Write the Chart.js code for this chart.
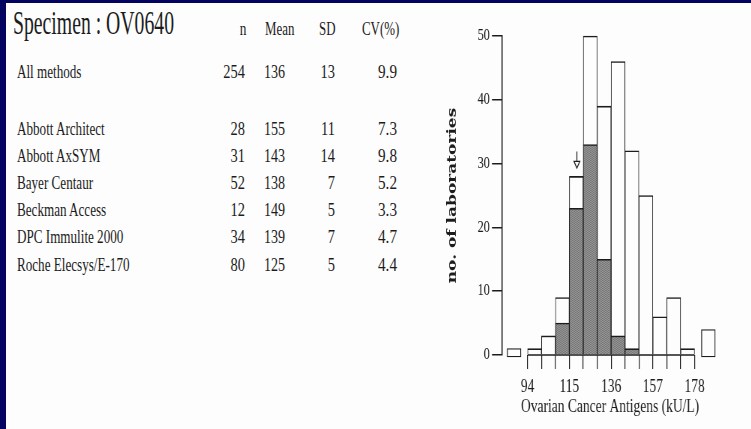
<!DOCTYPE html>
<html>
<head>
<meta charset="utf-8">
<script src="https://cdn.jsdelivr.net/npm/chart.js@4.4.1/dist/chart.umd.min.js"></script>
<style>
  html, body { margin: 0; padding: 0; }
  body { width: 751px; height: 429px; background: #04035f; position: relative; overflow: hidden; }
  #paper { position: absolute; left: 6px; top: 3px; right: 0; bottom: 0; background: #fdfdfd; }
  .txt { position: absolute; font-family: 'Liberation Serif', 'Times New Roman', serif; color: #1c1c1c;
         white-space: nowrap; line-height: 1; transform-origin: 0 0; }
  #chartBox { position: absolute; left: 440px; top: 20px; width: 380px; height: 409px;
              transform: scaleX(0.75); transform-origin: 0 0; }
</style>
</head>
<body>
<div id="paper"></div>
<div id="chartBox"><canvas id="histo" width="380" height="409"></canvas></div>
<script>
// table
const specimen = 'Specimen : OV0640';
const columns = ['n', 'Mean', 'SD', 'CV(%)'];
const methods = ['All methods', 'Abbott Architect', 'Abbott AxSYM', 'Bayer Centaur', 'Beckman Access', 'DPC Immulite 2000', 'Roche Elecsys/E-170'];
const nLabs = [254, 28, 31, 52, 12, 34, 80];
const means = [136, 155, 143, 138, 149, 139, 125];
const sds = [13, 11, 14, 7, 5, 7, 5];
const cvs = ['9.9', '7.3', '9.8', '5.2', '3.3', '4.7', '4.4'];

// histogram (bins of 7 kU/L)
const binEdges = [94, 101, 108, 115, 122, 129, 136, 143, 150, 157, 164, 171, 178];
const allCounts = [1, 3, 9, 28, 50, 39, 46, 32, 25, 6, 9, 1];
const rocheCounts = [0, 0, 5, 23, 33, 15, 3, 1, 0, 0, 0, 0];
const outlierX = [87.2, 184.9];
const outlierCounts = [1, 4];
const outlierBase = -0.3;
const xTickLabels = [94, 115, 136, 157, 178];
const arrowX = 118.8, arrowFrom = 31.9, arrowTo = 30.0;

const ink = '#1c1c1c';
const serif = "'Liberation Serif', 'Times New Roman', serif";

function addText(str, x, baseline, size, scale, align) {
  const el = document.createElement('div');
  el.className = 'txt';
  el.textContent = str;
  el.style.fontSize = size + 'px';
  el.style.left = x + 'px';
  el.style.top = (baseline - size * 0.84) + 'px';
  let shift = '';
  if (align === 'right') shift = ' translateX(-100%)';
  if (align === 'center') shift = ' translateX(-50%)';
  el.style.transform = 'scaleX(' + scale + ')' + shift;
  document.body.appendChild(el);
}

addText(specimen, 13, 34.3, 34, 0.58, 'left');
addText(columns[0], 242.5, 35, 19, 0.7, 'center');
addText(columns[1], 265, 35, 19, 0.68, 'left');
addText(columns[2], 319, 35, 19, 0.68, 'left');
addText(columns[3], 362, 35, 19, 0.68, 'left');

methods.forEach((m, i) => {
  const y = i === 0 ? 78 : 134.5 + 27.2 * (i - 1);
  addText(m, 17, y, 19, 0.69, 'left');
  addText(String(nLabs[i]), 245, y, 19, 0.76, 'right');
  addText(String(means[i]), 285, y, 19, 0.74, 'right');
  addText(String(sds[i]), 335, y, 19, 0.76, 'right');
  addText(cvs[i], 397, y, 19, 0.8, 'right');
});

const ctx = document.getElementById('histo').getContext('2d');

function makeStipple() {
  const c = document.createElement('canvas');
  c.width = 2; c.height = 2;
  const g = c.getContext('2d');
  g.fillStyle = '#9a9a9a';
  g.fillRect(0, 0, 2, 2);
  g.fillStyle = '#727272';
  g.fillRect(0, 0, 1, 1);
  g.fillRect(1, 1, 1, 1);
  return ctx.createPattern(c, 'repeat');
}

const binCenters = allCounts.map((_, i) => (binEdges[i] + binEdges[i + 1]) / 2);
const barBorder = { top: 1.6, left: 1, right: 1, bottom: 0 };

new Chart(ctx, {
  type: 'bar',
  data: {
    datasets: [
      {
        label: 'Roche Elecsys/E-170',
        data: binCenters.map((x, i) => ({ x: x, y: rocheCounts[i] || null })),
        backgroundColor: makeStipple(),
        borderColor: ink,
        borderWidth: barBorder,
        order: 1
      },
      {
        label: 'All methods',
        data: binCenters.map((x, i) => ({ x: x, y: allCounts[i] })),
        backgroundColor: '#fdfdfd',
        borderColor: ink,
        borderWidth: barBorder,
        order: 2
      },
      {
        label: 'outside range',
        data: outlierX.map((x, i) => ({ x: x, y: [outlierBase, outlierCounts[i]] })),
        backgroundColor: '#fdfdfd',
        borderColor: ink,
        borderWidth: 1.3,
        borderSkipped: false,
        order: 2
      },
      {
        type: 'line',
        label: 'baseline',
        data: [{ x: binEdges[0], y: 0 }, { x: binEdges[binEdges.length - 1], y: 0 }],
        borderColor: ink,
        borderWidth: 1.6,
        pointRadius: 0,
        order: 0
      },
      {
        type: 'line',
        label: 'arrow',
        data: [{ x: arrowX, y: arrowFrom }, { x: arrowX, y: arrowTo }],
        borderColor: ink,
        borderWidth: 1.2,
        pointRadius: [0, 4.5],
        pointStyle: 'triangle',
        pointRotation: 180,
        pointBackgroundColor: '#fdfdfd',
        pointBorderColor: ink,
        pointBorderWidth: 1.2,
        order: 0
      }
    ]
  },
  options: {
    responsive: false,
    animation: false,
    layout: { padding: { top: 16, right: 8.7, left: 0, bottom: 0 } },
    plugins: { legend: { display: false }, tooltip: { enabled: false } },
    datasets: {
      bar: { grouped: false, barPercentage: 1, categoryPercentage: 1, clip: false },
      line: { clip: false }
    },
    scales: {
      x: {
        type: 'linear',
        min: 81,
        max: 190,
        offset: false,
        afterBuildTicks: s => { s.ticks = binEdges.map(v => ({ value: v })); },
        afterFit: s => { s.height = 74; },
        border: { display: false },
        grid: { offset: false, drawOnChartArea: false, tickLength: 14, color: ink, lineWidth: 1.2 },
        ticks: {
          padding: 8,
          autoSkip: false,
          maxRotation: 0,
          color: ink,
          font: { family: serif, size: 18, lineHeight: 1.1 },
          callback: v => xTickLabels.includes(v) ? String(v) : ''
        },
        title: {
          display: true,
          text: 'Ovarian Cancer Antigens (kU/L)',
          color: ink,
          font: { family: serif, size: 18, lineHeight: 1.1 },
          padding: { top: 0, bottom: 12 }
        }
      },
      y: {
        min: 0,
        max: 50,
        afterFit: s => { s.width = 82.3; },
        border: { display: true, color: ink, width: 1.5 },
        grid: { drawOnChartArea: false, tickLength: 13, color: ink, lineWidth: 1.5 },
        ticks: { stepSize: 10, padding: 3, color: ink, font: { family: serif, size: 16 } },
        title: {
          display: true,
          text: 'no. of laboratories',
          color: ink,
          font: { family: "'DejaVu Serif', serif", size: 17, weight: 'bold' },
          padding: { top: 6, bottom: 0 }
        }
      }
    }
  }
});
</script>
</body>
</html>
